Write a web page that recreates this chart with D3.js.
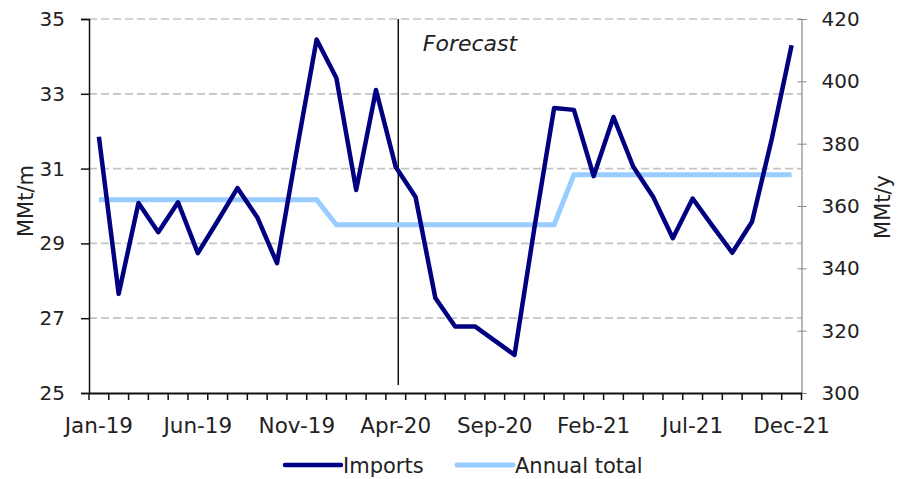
<!DOCTYPE html>
<html>
<head>
<meta charset="utf-8">
<script src="https://cdn.jsdelivr.net/npm/d3@7"></script>
<style>
  body { margin: 0; background: #fff; }
  text { font-family: "DejaVu Sans", sans-serif; fill: #222; }
</style>
</head>
<body>
<div id="chart"></div>
<script>
// Mois de Jan-19 à Dec-21
const months = ["Jan-19","Feb-19","Mar-19","Apr-19","May-19","Jun-19","Jul-19","Aug-19","Sep-19","Oct-19","Nov-19","Dec-19",
                "Jan-20","Feb-20","Mar-20","Apr-20","May-20","Jun-20","Jul-20","Aug-20","Sep-20","Oct-20","Nov-20","Dec-20",
                "Jan-21","Feb-21","Mar-21","Apr-21","May-21","Jun-21","Jul-21","Aug-21","Sep-21","Oct-21","Nov-21","Dec-21"];

// Importations mensuelles (MMt/m, axe gauche)
const imports = [31.85, 27.65, 30.08, 29.3, 30.1, 28.74, 29.6, 30.48, 29.7, 28.47, 31.5, 34.45,
                 33.42, 30.43, 33.1, 31.04, 30.24, 27.54, 26.78, 26.78, 26.4, 26.02, 29.4, 32.62,
                 32.57, 30.8, 32.38, 31.05, 30.25, 29.14, 30.2, 29.47, 28.75, 29.58, 31.8, 34.3];

// Total annuel (MMt/y, axe droit)
const annualTotal = [362, 362, 362, 362, 362, 362, 362, 362, 362, 362, 362, 362,
                     354, 354, 354, 354, 354, 354, 354, 354, 354, 354, 354, 354,
                     370, 370, 370, 370, 370, 370, 370, 370, 370, 370, 370, 370];

const leftTicks = [25, 27, 29, 31, 33, 35];
const rightTicks = [300, 320, 340, 360, 380, 400, 420];
const xLabels = ["Jan-19","Jun-19","Nov-19","Apr-20","Sep-20","Feb-21","Jul-21","Dec-21"];
const forecastStart = "Apr-20";

const W = 897, H = 479;
const margin = {top: 19, right: 95.5, bottom: 86, left: 89};
const width = W - margin.left - margin.right,
      height = H - margin.top - margin.bottom;

const svg = d3.select("#chart")
    .append("svg")
    .attr("width", W)
    .attr("height", H)
    .append("g")
    .attr("transform", "translate(" + margin.left + "," + margin.top + ")");

const x = d3.scaleBand().domain(months).range([0, width]);
const y = d3.scaleLinear().domain([25, 35]).range([height, 0]);
const y2 = d3.scaleLinear().domain([300, 420]).range([height, 0]);
const cx = d => x(d) + x.bandwidth() / 2;

// grille pointillée
svg.append("g")
    .selectAll("line")
    .data(leftTicks.filter(t => t > 25))
    .join("line")
    .attr("x1", 0)
    .attr("x2", width)
    .attr("y1", d => y(d))
    .attr("y2", d => y(d))
    .attr("stroke", "#c4c4c4")
    .attr("stroke-width", 1.7)
    .attr("stroke-dasharray", "8,4");

// axe gauche
const gLeft = svg.append("g")
    .call(d3.axisLeft(y).tickValues(leftTicks).tickSize(8).tickPadding(16));
gLeft.select(".domain").attr("stroke", "#111").attr("stroke-width", 1.5);
gLeft.selectAll(".tick line").attr("stroke", "#111").attr("stroke-width", 1.5);
gLeft.selectAll("text").style("font-size", "20px").attr("fill", "#222").attr("font-family", null);

// axe droit
const gRight = svg.append("g")
    .attr("transform", "translate(" + width + ",0)")
    .call(d3.axisRight(y2).tickValues(rightTicks).tickSize(5).tickPadding(15));
gRight.select(".domain").attr("stroke", "#888").attr("stroke-width", 1.2);
gRight.selectAll(".tick line").attr("stroke", "#888").attr("x1", -4);
gRight.selectAll("text").style("font-size", "20px").attr("fill", "#222").attr("font-family", null);

// axe du bas
const gBottom = svg.append("g")
    .attr("transform", "translate(0," + height + ")")
    .call(d3.axisBottom(x).tickValues([]).tickSizeOuter(0));
gBottom.select(".domain").attr("stroke", "#111").attr("stroke-width", 2);
gBottom.selectAll(".bt")
    .data(d3.range(months.length + 1))
    .join("line")
    .attr("x1", i => i * x.step())
    .attr("x2", i => i * x.step())
    .attr("y1", 0)
    .attr("y2", 7)
    .attr("stroke", "#111")
    .attr("stroke-width", 1.5);
gBottom.selectAll(".lbl")
    .data(xLabels)
    .join("text")
    .attr("x", d => cx(d))
    .attr("y", 40)
    .attr("text-anchor", "middle")
    .style("font-size", "21.5px")
    .text(d => d);

// titres des axes
svg.append("text")
    .attr("transform", "translate(" + (-56) + "," + (height / 2 - 5) + ") rotate(-90)")
    .attr("text-anchor", "middle")
    .style("font-size", "21px")
    .text("MMt/m");
svg.append("text")
    .attr("transform", "translate(" + (width + 88) + "," + (height / 2 + 1) + ") rotate(-90)")
    .attr("text-anchor", "middle")
    .style("font-size", "21px")
    .text("MMt/y");

// ligne prévision
svg.append("line")
    .attr("x1", cx(forecastStart) + 2.5)
    .attr("x2", cx(forecastStart) + 2.5)
    .attr("y1", 0)
    .attr("y2", height - 8)
    .attr("stroke", "#111")
    .attr("stroke-width", 1.5);
svg.append("text")
    .attr("x", cx(forecastStart) + 27)
    .attr("y", 32)
    .style("font-size", "22px")
    .style("font-style", "italic")
    .text("Forecast");

// séries
svg.append("path")
    .datum(annualTotal)
    .attr("fill", "none")
    .attr("stroke", "#99ccff")
    .attr("stroke-width", 5)
    .attr("d", d3.line().x((d, i) => cx(months[i])).y(d => y2(d)));

svg.append("path")
    .datum(imports)
    .attr("fill", "none")
    .attr("stroke", "#000080")
    .attr("stroke-width", 4.5)
    .attr("stroke-linejoin", "round")
    .attr("d", d3.line().x((d, i) => cx(months[i])).y(d => y(d)));

// légende
const legend = [{name: "Imports", color: "#000080", w: 4.5, x: 196},
                {name: "Annual total", color: "#99ccff", w: 5, x: 368}];
const lg = svg.append("g").attr("transform", "translate(0," + (height + 72) + ")");
legend.forEach(l => {
    lg.append("line")
        .attr("x1", l.x).attr("x2", l.x + 56)
        .attr("y1", 0).attr("y2", 0)
        .attr("stroke", l.color)
        .attr("stroke-width", l.w)
        .attr("stroke-linecap", "round");
    lg.append("text")
        .attr("x", l.x + 58)
        .attr("y", 7.5)
        .style("font-size", "21px")
        .text(l.name);
});
</script>
</body>
</html>
